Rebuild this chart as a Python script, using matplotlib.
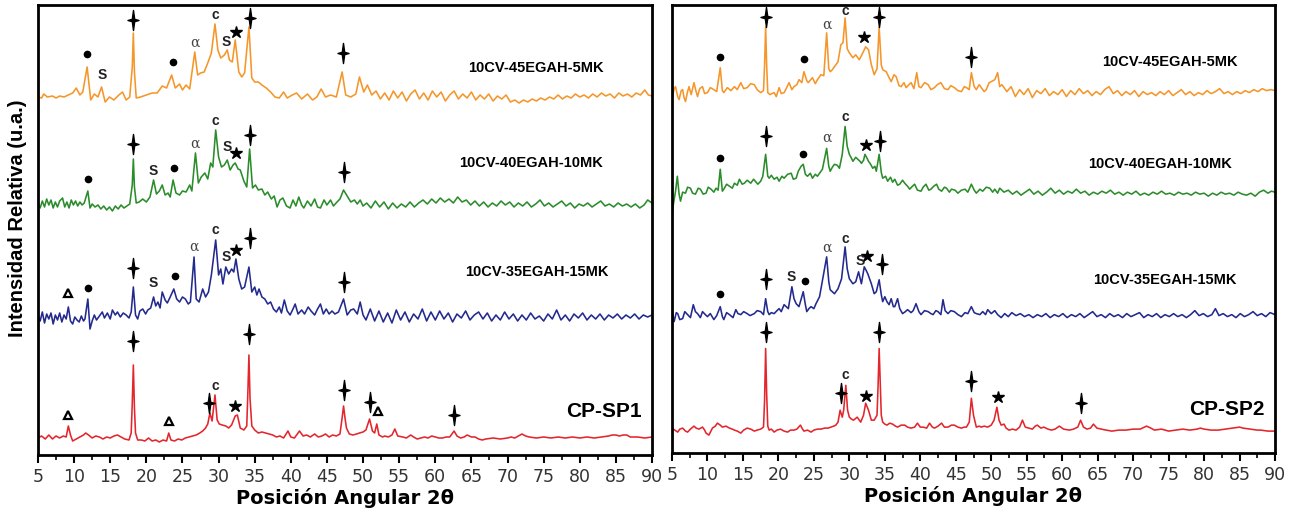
import matplotlib.pyplot as plt
from matplotlib.path import Path
from matplotlib.ticker import MultipleLocator

# ---------------- data (2theta, relative intensity above each baseline) ----------------
# left panel
sp1_45 = [(5.0,0),(5.5,-1),(5.8,3),(6.3,0),(7.0,1),(7.5,-1),(8.0,1),(8.6,0),(9.2,2),(9.8,4),
          (10.3,9),(10.8,2),(11.2,5),(11.8,30),(12.3,-3),(12.8,3),(13.3,0),(13.8,10),(14.3,-5),
          (14.9,0),(15.5,-3),(16.2,2),(16.7,5),(17.2,-3),(17.7,0),(18.05,30),(18.2,64),(18.35,25),
          (18.6,-1),(19.2,0),(20.0,2),(20.8,4),(21.5,4),(22.2,11),(22.8,9),(23.5,22),(24.0,9),
          (24.6,13),(25.0,7),(25.5,12),(26.0,8),(26.7,45),(27.1,22),(27.5,24),(28.0,25),(28.5,34),
          (29.0,44),(29.5,73),(29.9,47),(30.3,39),(30.8,42),(31.2,47),(31.5,37),(31.9,35),(32.3,57),
          (32.8,25),(33.2,20),(33.6,24),(34.2,70),(34.6,19),(35.0,15),(35.5,15),(36.0,12),(36.6,9),
          (37.2,5),(37.8,0),(38.4,-1),(39.0,5),(39.5,-1),(40.2,2),(40.8,4),(41.5,-2),(42.3,3),
          (43.0,-3),(43.6,0),(44.2,8),(44.8,0),(45.5,2),(46.3,0),(47.1,25),(47.6,2),(48.3,0),
          (49.0,3),(49.5,20),(50.1,5),(50.6,12),(51.2,2),(51.8,6),
          (52.4,-2),(53.0,4),(53.6,-3),(54.2,6),(54.8,-1),(55.4,5),(56.0,-4),(56.6,3),(57.2,7),
          (57.8,-2),(58.4,4),(59.0,-3),(59.6,6),(60.2,0),(60.8,5),(61.4,-4),(62.0,2),(62.6,6),
          (63.2,-2),(63.8,3),(64.4,-1),(65.0,5),(65.6,-3),(66.2,2),(66.8,-2),(67.4,3),(68.0,-4),
          (68.6,1),(69.2,-2),(69.8,2),(70.4,-5),(71.0,-3),(71.6,-6),(72.2,-3),(72.8,-5),(73.4,-2),
          (74.0,-4),(74.6,-1),(75.2,-3),(75.8,0),(76.4,-2),(77.0,2),(77.6,-2),(78.2,1),(78.8,-1),
          (79.4,3),(80.0,0),(80.6,2),(81.2,-1),(81.8,3),(82.4,0),(83.0,4),(83.6,1),(84.2,3),
          (84.8,-1),(85.4,4),(86.0,1),(86.6,3),(87.2,0),(87.8,4),(88.4,2),(89.0,7),(89.5,2),(90.0,1)]

sp1_40 = [(5.0,2),(5.3,-3),(5.6,4),(5.9,-2),(6.2,6),(6.5,0),(6.8,5),(7.1,-3),(7.4,3),(7.7,-2),
          (8.0,4),(8.4,7),(8.7,-2),(9.0,3),(9.3,-3),(9.6,5),(9.9,0),(10.2,4),(10.5,-1),(10.8,3),
          (11.1,0),(11.4,2),(11.9,14),(12.2,-3),(12.5,1),(12.9,-2),(13.3,0),(13.7,-4),(14.1,-1),
          (14.5,-5),(14.9,-2),(15.3,-6),(15.7,-1),(16.1,-4),(16.5,0),(16.9,-3),(17.3,-1),(17.7,1),
          (18.05,20),(18.2,46),(18.35,18),(18.6,2),(19.0,3),(19.5,6),(20.0,3),(20.5,8),(21.0,25),
          (21.4,11),(21.8,14),(22.2,20),(22.6,10),(23.0,12),(23.3,8),(23.7,25),(24.1,12),(24.6,10),
          (25.0,14),(25.5,13),(26.0,20),(26.3,14),(26.8,52),(27.2,22),(27.6,28),(28.1,32),(28.5,26),
          (28.9,42),(29.2,38),(29.6,75),(30.0,48),(30.4,38),(30.8,40),(31.2,45),(31.6,35),(32.0,40),
          (32.3,42),(32.7,36),(33.0,35),(33.5,24),(33.9,18),(34.3,56),(34.7,17),(35.1,20),(35.5,15),
          (36.0,16),(36.4,10),(36.8,13),(37.3,6),(37.7,9),(38.1,-2),(38.5,5),(38.9,7),(39.4,-1),
          (39.9,-3),(40.3,5),(40.7,-1),(41.1,8),(41.5,0),(41.8,-3),(42.3,4),(42.8,-1),(43.3,6),
          (43.7,-2),(44.1,-3),(44.6,5),(45.0,0),(45.5,5),(45.9,-1),(46.4,3),(46.8,6),(47.3,15),
          (47.8,9),(48.3,3),(48.8,5),(49.2,1),(49.6,5),(50.0,-1),
          (50.5,2),(51.1,-3),(51.7,4),(52.3,-2),(52.9,3),(53.5,-4),(54.1,2),(54.7,-3),(55.3,1),
          (55.9,-2),(56.5,3),(57.1,-2),(57.7,2),(58.3,5),(58.9,1),(59.5,6),(60.1,2),(60.7,7),
          (61.3,3),(61.9,6),(62.5,2),(63.1,8),(63.7,3),(64.3,5),(64.9,0),(65.5,4),(66.1,-1),
          (66.7,3),(67.3,-2),(67.9,2),(68.5,-1),(69.1,4),(69.7,0),(70.3,3),(70.9,-2),(71.5,2),
          (72.1,-1),(72.7,3),(73.3,-2),(73.9,1),(74.5,5),(75.1,-1),(75.7,2),(76.3,-2),(76.9,1),
          (77.5,4),(78.1,-1),(78.7,2),(79.3,-3),(79.9,1),(80.5,-1),(81.1,2),(81.7,-2),(82.3,1),
          (82.9,4),(83.5,-1),(84.1,1),(84.7,-2),(85.3,2),(85.9,-1),(86.5,1),(87.1,-2),(87.7,1),
          (88.3,-3),(88.9,0),(89.4,5),(90.0,2)]

sp1_35 = [(5.0,2),(5.3,-4),(5.6,5),(5.9,-6),(6.2,3),(6.5,-2),(6.8,4),(7.1,-7),(7.4,2),(7.7,-3),
          (8.0,4),(8.3,-5),(8.6,2),(8.9,-2),(9.2,10),(9.5,-4),(9.8,-7),(10.1,0),(10.4,-3),(10.7,-5),
          (11.0,1),(11.3,-4),(11.5,-2),(11.9,18),(12.2,-12),(12.5,-4),(12.8,2),(13.1,-3),(13.5,1),
          (13.9,5),(14.2,-1),(14.6,4),(15.0,-2),(15.3,7),(15.7,2),(16.0,5),(16.4,0),(16.8,4),
          (17.2,2),(17.6,-1),(17.9,5),(18.2,30),(18.5,2),(18.8,-2),(19.1,6),(19.5,8),(19.9,3),
          (20.2,7),(20.6,9),(21.0,20),(21.3,11),(21.6,15),(21.9,9),(22.2,25),(22.6,17),(22.9,14),
          (23.3,20),(23.8,28),(24.2,18),(24.6,15),(25.0,20),(25.4,18),(25.8,13),(26.1,15),(26.6,60),
          (26.9,18),(27.3,15),(27.8,28),(28.2,20),(28.6,25),(29.0,42),(29.6,77),(30.0,42),(30.3,48),
          (30.6,33),(31.0,50),(31.4,43),(31.8,48),(32.1,45),(32.4,58),(32.8,38),(33.2,28),(33.6,30),
          (34.2,50),(34.6,25),(35.0,30),(35.3,22),(35.6,28),(36.0,20),(36.4,18),(36.8,13),(37.2,15),
          (37.6,8),(38.0,5),(38.4,10),(38.7,4),(39.1,17),(39.5,6),(39.9,2),(40.3,8),(40.6,13),
          (41.0,3),(41.5,7),(41.9,3),(42.4,10),(42.8,6),(43.3,2),(43.7,8),(44.1,13),(44.5,3),
          (44.9,8),(45.3,3),(45.7,6),(46.1,3),(46.6,5),(47.3,18),(47.8,2),(48.3,7),(48.7,8),
          (49.2,3),(49.6,15),(50.0,2),
          (50.4,-3),(51.0,8),(51.6,-4),(52.2,6),(52.8,-5),(53.4,4),(54.0,-6),(54.6,7),(55.2,-3),
          (55.8,5),(56.4,-5),(57.0,3),(57.6,-2),(58.2,8),(58.8,-4),(59.4,5),(60.0,-3),(60.6,6),
          (61.2,-2),(61.8,4),(62.4,-5),(63.0,3),(63.6,-1),(64.2,6),(64.8,-3),(65.4,2),(66.0,5),
          (66.6,-2),(67.2,4),(67.8,-4),(68.4,2),(69.0,-3),(69.6,5),(70.2,-2),(70.8,3),(71.4,-4),
          (72.0,2),(72.6,-3),(73.2,4),(73.8,-2),(74.4,1),(75.0,-4),(75.6,3),(76.2,-2),(76.8,7),
          (77.4,-3),(78.0,2),(78.6,-4),(79.2,3),(79.8,-1),(80.4,4),(81.0,-3),(81.6,2),(82.2,-2),
          (82.8,3),(83.4,-3),(84.0,2),(84.6,-1),(85.2,3),(85.8,-2),(86.4,2),(87.0,-1),(87.6,3),
          (88.2,-2),(88.8,2),(89.4,0),(90.0,2)]

sp1_cp = [(5.0,0),(5.5,2),(6.0,-1),(6.5,3),(7.0,-1),(7.5,2),(8.0,0),(8.5,2),(8.9,1),(9.2,12),
          (9.5,3),(9.8,-3),(10.3,-1),(10.8,1),(11.3,3),(11.6,5),(12.0,3),(12.5,0),(13.0,2),(13.5,1),
          (14.0,-1),(14.5,1),(15.0,0),(15.5,2),(16.0,3),(16.5,1),(17.0,-1),(17.6,-2),(17.9,5),
          (18.05,35),(18.2,73),(18.35,30),(18.5,5),(18.8,-2),(19.3,-2),(19.8,-3),(20.3,0),(20.8,-3),
          (21.3,-2),(21.8,-4),(22.3,-2),(22.8,-3),(23.1,5),(23.4,-2),(23.9,-3),(24.4,-1),(24.9,-2),
          (25.4,0),(25.9,1),(26.4,2),(26.9,3),(27.4,5),(27.8,7),(28.2,10),(28.5,14),(28.8,25),
          (29.1,17),(29.5,43),(29.8,18),(30.1,14),(30.5,13),(31.0,12),(31.4,10),(31.8,13),(32.3,22),
          (32.6,23),(33.0,10),(33.5,8),(33.9,12),(34.05,45),(34.2,83),(34.35,40),(34.6,12),(35.0,8),
          (35.5,5),(36.0,6),(36.5,5),(37.0,4),(37.5,3),(38.0,1),(38.5,2),(39.0,0),(39.6,7),(40.0,1),
          (40.5,0),(41.2,7),(41.7,2),(42.2,3),(42.7,1),(43.3,4),(43.8,1),(44.3,2),(44.8,4),(45.3,1),
          (45.8,3),(46.3,2),(46.8,4),(47.1,20),(47.3,32),(47.5,20),(47.7,10),(48.1,4),(48.6,3),
          (49.1,4),(49.5,5),(50.0,6),(50.4,8),(50.9,19),(51.3,7),(51.6,5),(51.9,14),(52.2,3),
          (52.7,1),(53.0,2),(53.5,1),(54.0,3),(54.4,9),(54.8,2),(55.5,1),(56.0,0),(56.6,3),(57.0,1),
          (57.5,-1),(58.0,0),(58.5,1),(59.0,0),(59.5,2),(60.0,1),(60.5,0),(61.0,0),(61.5,1),(62.0,1),
          (62.6,7),(63.0,2),(63.5,0),(64.0,1),(64.4,3),(65.0,1),(65.5,1),(66.0,-1),(66.5,-2),(67.0,-1),
          (68.0,0),(69.0,-1),(70.0,0),(70.5,1),(71.0,0),(71.5,2),(72.0,4),(72.5,2),(73.0,1),(74.0,0),
          (75.0,1),(76.0,0),(77.0,1),(78.0,0),(79.0,1),(80.0,0),(81.0,1),(82.0,0),(83.0,1),(84.0,2),
          (84.5,3),(85.0,3),(85.5,2),(86.0,3),(86.5,3),(87.0,1),(88.0,1),(89.0,0),(90.0,1)]

# right panel
sp2_45 = [(5.0,-5),(5.3,6),(5.5,8),(5.8,-2),(6.0,-5),(6.3,4),(6.5,5),(6.7,-3),(6.9,-7),(7.2,3),
          (7.4,8),(7.7,0),(8.1,12),(8.4,3),(8.6,-2),(8.9,6),(9.3,8),(9.6,1),(10.0,2),(10.4,7),
          (10.9,5),(11.3,3),(11.8,27),(12.1,4),(12.3,2),(12.8,7),(13.3,4),(13.8,8),(14.2,5),(14.7,12),
          (15.1,6),(15.6,7),(16.1,11),(16.6,10),(17.0,5),(17.5,2),(17.9,4),(18.05,30),(18.2,68),
          (18.35,28),(18.5,2),(18.8,0),(19.4,2),(19.7,-2),(20.1,7),(20.4,1),(20.8,2),(21.1,6),(21.5,12),
          (21.9,5),(22.2,8),(22.6,10),(22.9,15),(23.3,12),(23.6,23),(24.0,14),(24.2,12),(24.8,17),
          (25.2,11),(25.5,15),(26.0,20),(26.4,19),(26.8,62),(27.1,26),(27.3,23),(27.6,25),(27.9,28),
          (28.4,33),(28.8,50),(29.1,52),(29.4,77),(29.7,46),(30.0,42),(30.5,37),(30.9,40),(31.4,35),
          (31.9,42),(32.3,48),(32.7,45),(33.1,30),(33.5,20),(33.9,26),(34.2,68),(34.5,30),(34.7,25),
          (35.2,23),(35.6,17),(35.9,13),(36.3,20),(36.6,18),(37.0,9),(37.3,8),(37.7,12),(38.0,7),
          (38.4,10),(38.7,12),(39.1,6),(39.5,22),(39.8,8),(40.1,7),(40.6,12),(41.1,10),(41.5,5),
          (42.0,7),(42.4,10),(42.9,12),(43.4,6),(43.9,5),(44.3,9),(44.8,7),(45.3,4),(45.8,3),(46.2,8),
          (46.5,7),(46.9,5),(47.2,22),(47.6,8),(47.9,5),(48.3,10),(48.6,7),(49.0,3),(49.3,5),(49.7,12),
          (50.0,13),(50.5,15),(50.9,22),(51.2,8),
          (51.5,10),(52.2,3),(52.8,8),(53.4,-2),(54.0,5),(54.6,0),(55.2,6),(55.8,-3),(56.4,4),(57.0,1),
          (57.6,6),(58.2,-1),(58.8,3),(59.4,0),(60.0,5),(60.6,-2),(61.2,4),(61.8,0),(62.4,6),(63.0,1),
          (63.6,4),(64.2,-1),(64.8,3),(65.4,0),(66.0,5),(66.6,8),(67.2,1),(67.8,4),(68.4,-1),(69.0,3),
          (69.6,0),(70.2,4),(70.8,-2),(71.4,3),(72.0,0),(72.6,2),(73.2,-1),(73.8,3),(74.4,0),(75.0,4),
          (75.6,-1),(76.2,2),(76.8,5),(77.4,0),(78.0,3),(78.6,-1),(79.2,2),(79.8,0),(80.4,4),(81.0,1),
          (81.6,3),(82.2,6),(82.8,1),(83.4,3),(84.0,0),(84.6,3),(85.2,1),(85.8,4),(86.4,2),(87.0,5),
          (87.6,3),(88.2,6),(88.8,4),(89.4,5),(90.0,4)]

sp2_40 = [(5.0,-22),(5.2,-8),(5.5,5),(5.75,20),(6.0,2),(6.2,-5),(6.5,4),(6.9,3),(7.2,9),(7.6,8),
          (7.9,3),(8.3,2),(8.7,8),(9.0,7),(9.4,2),(9.8,3),(10.1,9),(10.5,7),(10.9,4),(11.2,8),(11.5,6),
          (11.8,27),(12.1,5),(12.3,7),(12.7,12),(13.1,10),(13.5,8),(13.8,13),(14.2,11),(14.5,17),
          (14.9,12),(15.2,13),(15.6,16),(16.1,13),(16.5,17),(17.1,12),(17.5,15),(17.8,20),(18.2,42),
          (18.5,20),(18.7,18),(19.0,21),(19.4,17),(19.8,19),(20.1,15),(20.5,20),(20.8,18),(21.3,22),
          (21.8,23),(22.1,17),(22.5,18),(22.8,25),(23.2,30),(23.5,32),(23.8,22),(24.1,20),(24.5,23),
          (24.8,18),(25.2,22),(25.5,20),(25.9,24),(26.2,27),(26.8,48),(27.1,30),(27.3,25),(27.6,29),
          (27.9,32),(28.3,31),(28.6,28),(29.0,42),(29.4,70),(29.7,50),(30.0,42),(30.3,38),(30.5,35),
          (30.9,39),(31.2,37),(31.5,35),(31.7,33),(32.0,36),(32.2,42),(32.5,38),(32.7,35),(33.0,32),
          (33.3,28),(33.6,30),(33.8,25),(34.2,42),(34.5,24),(34.7,18),(35.1,20),(35.4,15),(35.8,19),
          (36.1,14),(36.4,17),(36.8,11),(37.1,12),(37.5,16),(37.8,13),(38.2,10),(38.5,7),(38.9,10),
          (39.2,12),(39.6,6),(40.1,5),(40.4,9),(40.8,12),(41.2,6),(41.5,7),(41.9,10),(42.3,12),
          (42.6,7),(43.0,5),(43.4,9),(43.7,8),(44.1,4),(44.4,7),(44.9,6),(45.3,3),(45.8,6),(46.3,7),
          (46.7,4),(47.2,12),(47.6,6),(47.9,3),(48.4,7),(48.8,5),(49.3,9),(49.8,8),(50.2,4),(50.5,7),
          (50.9,3),(51.2,8),(51.8,4),(52.4,6),(53.0,2),(53.6,5),(54.2,1),(54.8,4),(55.4,7),(56.0,2),
          (56.6,5),(57.2,1),(57.8,4),(58.4,8),(59.0,3),(59.6,6),(60.2,2),(60.8,5),(61.4,3),(62.0,7),
          (62.6,3),(63.2,5),(63.8,1),(64.4,4),(65.0,2),(65.6,5),(66.2,3),(66.8,6),(67.4,2),(68.0,4),
          (68.6,1),(69.2,4),(69.8,2),(70.4,5),(71.0,1),(71.6,3),(72.2,1),(72.8,4),(73.4,2),(74.0,5),
          (74.6,2),(75.2,3),(75.8,1),(76.4,4),(77.0,2),(77.6,3),(78.2,1),(78.8,4),(79.4,2),(80.0,3),
          (80.6,0),(81.2,3),(81.8,1),(82.4,4),(83.0,2),(83.6,3),(84.2,1),(84.8,4),(85.4,2),(86.0,1),
          (86.6,3),(87.2,0),(87.8,4),(88.4,6),(89.0,3),(89.5,5),(90.0,4)]

sp2_35 = [(5.0,7),(5.3,-5),(5.6,4),(5.8,3),(6.1,-3),(6.5,-2),(6.8,5),(7.2,2),(7.6,-1),(8.0,12),
          (8.3,5),(8.6,3),(9.0,-1),(9.3,5),(9.7,2),(10.0,0),(10.4,3),(10.9,-3),(11.3,1),(11.8,10),
          (12.1,0),(12.3,-3),(12.7,4),(13.1,2),(13.6,-1),(14.0,7),(14.3,3),(14.7,2),(15.1,5),(15.6,3),
          (16.0,1),(16.6,3),(17.0,6),(17.5,5),(17.9,2),(18.2,18),(18.5,5),(18.7,2),(19.0,4),(19.4,3),
          (19.8,6),(20.1,8),(20.4,5),(20.8,12),(21.1,10),(21.4,8),(21.9,30),(22.2,18),(22.5,13),
          (22.9,10),(23.5,25),(23.8,12),(24.0,5),(24.3,8),(24.6,10),(25.0,8),(25.3,13),(25.8,20),
          (26.3,40),(26.8,60),(27.1,35),(27.3,27),(27.6,25),(27.9,23),(28.4,28),(28.9,38),(29.4,70),
          (29.7,48),(30.0,38),(30.5,33),(30.9,35),(31.3,45),(31.7,33),(32.1,50),(32.4,46),(32.6,43),
          (33.1,33),(33.5,23),(33.8,25),(34.2,37),(34.5,22),(34.7,15),(35.0,20),(35.3,15),(35.6,12),
          (35.9,18),(36.2,10),(36.4,10),(36.8,18),(37.1,8),(37.5,3),(37.9,5),(38.2,7),(38.7,4),
          (39.0,6),(39.4,13),(39.8,5),(40.1,2),(40.6,6),(41.1,5),(41.5,3),(41.8,2),(42.2,6),(42.5,5),
          (42.9,2),(43.2,17),(43.5,6),(43.9,3),(44.3,6),(44.8,5),(45.3,2),(45.8,0),(46.3,4),(46.7,3),
          (47.2,10),(47.6,4),(47.9,3),(48.4,2),(48.8,5),(49.2,2),(49.5,7),(50.0,3),(50.5,6),
          (50.9,2),(51.4,-1),(51.9,3),(52.4,0),(52.9,4),(53.5,1),(54.1,3),(54.7,0),(55.3,2),(55.9,-1),
          (56.5,2),(57.1,0),(57.7,3),(58.3,-1),(58.9,2),(59.5,0),(60.1,3),(60.7,-1),(61.3,2),(61.9,0),
          (62.5,3),(63.1,-1),(63.7,2),(64.3,5),(64.9,0),(65.5,2),(66.1,-1),(66.7,3),(67.3,0),(67.9,2),
          (68.5,-1),(69.1,3),(69.7,0),(70.3,2),(70.9,4),(71.5,-1),(72.1,2),(72.7,0),(73.3,3),(73.9,-1),
          (74.5,2),(75.1,0),(75.7,3),(76.3,0),(76.9,2),(77.5,-1),(78.1,2),(78.7,6),(79.3,1),(79.9,3),
          (80.5,0),(81.1,2),(81.6,8),(82.1,1),(82.7,3),(83.3,0),(83.9,2),(84.5,-1),(85.1,3),(85.7,0),
          (86.3,2),(86.9,5),(87.5,1),(88.1,3),(88.7,0),(89.3,4),(90.0,2)]

sp2_cp = [(5.0,2),(5.4,0),(5.8,-2),(6.1,1),(6.5,2),(6.9,-1),(7.2,-2),(7.6,1),(8.1,4),(8.4,2),
          (8.8,1),(9.3,3),(9.6,0),(9.8,-3),(10.2,-5),(10.7,2),(11.1,4),(11.4,7),(11.8,5),(12.1,3),
          (12.6,4),(13.1,2),(13.5,1),(13.8,0),(14.2,-1),(14.7,-3),(15.1,0),(15.6,2),(16.1,1),(16.6,-1),
          (17.0,0),(17.5,1),(17.9,3),(18.05,30),(18.2,82),(18.35,35),(18.5,4),(18.7,0),(19.0,1),
          (19.4,-2),(19.8,0),(20.3,1),(20.8,-1),(21.3,-2),(21.7,0),(22.2,0),(22.6,1),(23.1,5),(23.4,1),
          (23.6,-1),(24.1,0),(24.6,-2),(25.0,0),(25.5,1),(26.0,1),(26.5,2),(27.0,2),(27.4,3),(27.8,4),
          (28.1,5),(28.4,8),(28.7,20),(29.0,13),(29.2,20),(29.5,45),(29.75,20),(30.0,13),(30.3,11),
          (30.6,10),(31.1,13),(31.6,8),(32.0,15),(32.3,27),(32.7,20),(33.1,10),(33.5,10),(33.9,15),
          (34.05,45),(34.2,82),(34.35,50),(34.5,15),(34.7,8),(35.0,6),(35.3,5),(35.7,7),(36.1,6),
          (36.5,4),(36.8,3),(37.3,5),(37.8,5),(38.2,3),(38.7,2),(39.2,3),(39.6,7),(40.0,3),(40.4,3),
          (40.9,2),(41.3,7),(41.7,3),(42.0,2),(42.5,4),(43.0,7),(43.4,3),(43.9,3),(44.4,5),(44.8,5),
          (45.3,3),(45.8,2),(46.2,3),(46.5,3),(46.9,8),(47.2,32),(47.5,15),(47.9,3),(48.3,4),(48.6,3),
          (49.0,4),(49.5,3),(50.0,5),(50.4,10),(50.8,23),(51.1,10),(51.4,5),(51.8,6),(52.1,2),(52.5,0),
          (53.0,1),(53.5,0),(54.0,3),(54.4,10),(54.8,3),(55.3,2),(55.8,1),(56.2,4),(56.5,5),(57.0,2),
          (57.4,3),(58.0,1),(58.5,0),(59.0,1),(59.6,4),(60.2,1),(61.0,0),(61.6,1),(62.2,3),(62.6,10),
          (63.0,3),(63.5,1),(64.0,2),(64.4,6),(64.9,2),(65.5,1),(66.2,0),(67.0,-1),(68.0,0),(69.0,0),
          (70.0,1),(71.0,1),(71.9,4),(72.5,2),(73.0,0),(74.0,1),(75.0,-1),(76.0,0),(77.0,1),(78.0,0),
          (79.0,1),(79.5,2),(80.0,1),(81.0,0),(82.0,0),(83.0,1),(84.0,2),(85.0,3),(85.5,2),(86.5,1),
          (87.5,0),(88.0,0),(89.0,-1),(90.0,-1)]

names = ['10CV-45EGAH-5MK', '10CV-40EGAH-10MK', '10CV-35EGAH-15MK']
colors = ['#F5962A', '#2B8C2B', '#232A8E', '#E3262C']

# ---------------- figure ----------------
fig = plt.figure(figsize=(12.94, 5.11), dpi=100)
ax1 = fig.add_axes([38 / 1294, 56 / 511, 614 / 1294, 450 / 511])
ax2 = fig.add_axes([672 / 1294, 58 / 511, 603 / 1294, 448 / 511])

# four-pointed star used for the main phase
cross = Path([(0, 1), (0.12, 0.12), (0.55, 0), (0.12, -0.12), (0, -1), (-0.12, -0.12),
              (-0.55, 0), (-0.12, 0.12), (0, 1)],
             [Path.MOVETO] + [Path.LINETO] * 7 + [Path.CLOSEPOLY])

# phase marks: (2theta, pixel row in the original, symbol)
marks_1 = [(11.8, 54, 'dot'), (13.9, 75, 'S'), (18.2, 20, 'x'), (23.7, 62, 'dot'), (26.7, 43, 'a'),
           (29.5, 15, 'c'), (31.0, 42, 'S'), (32.4, 32, 'star'), (34.3, 18, 'x'), (47.2, 53, 'x'),
           (11.9, 179, 'dot'), (18.2, 144, 'x'), (21.0, 171, 'S'), (23.8, 168, 'dot'), (26.7, 144, 'a'),
           (29.6, 121, 'c'), (31.2, 147, 'S'), (32.4, 153, 'star'), (34.3, 135, 'x'), (47.3, 172, 'x'),
           (9.2, 293, 'tri'), (11.9, 288, 'dot'), (18.2, 268, 'x'), (21.0, 283, 'S'), (23.9, 276, 'dot'),
           (26.6, 247, 'a'), (29.6, 230, 'c'), (31.0, 257, 'S'), (32.4, 250, 'star'), (34.3, 238, 'x'),
           (47.3, 282, 'x'),
           (9.2, 415, 'tri'), (18.2, 341, 'x'), (23.1, 421, 'tri'), (28.7, 403, 'x'), (29.6, 386, 'c'),
           (32.3, 406, 'star'), (34.2, 334, 'x'), (47.3, 390, 'x'), (50.9, 402, 'x'), (52.0, 411, 'tri'),
           (62.6, 415, 'x')]
marks_2 = [(11.8, 57, 'dot'), (18.2, 17, 'x'), (23.6, 59, 'dot'), (26.8, 25, 'a'), (29.4, 11, 'c'),
           (32.1, 37, 'star'), (34.2, 17, 'x'), (47.2, 57, 'x'),
           (11.8, 159, 'dot'), (18.2, 137, 'x'), (23.5, 155, 'dot'), (26.8, 138, 'a'), (29.4, 118, 'c'),
           (32.4, 146, 'star'), (34.3, 142, 'x'),
           (11.8, 295, 'dot'), (18.2, 280, 'x'), (21.8, 278, 'S'), (23.8, 282, 'dot'), (26.8, 249, 'a'),
           (29.4, 240, 'c'), (31.5, 262, 'S'), (32.5, 257, 'star'), (34.6, 265, 'x'),
           (18.2, 333, 'x'), (28.8, 395, 'x'), (29.5, 377, 'c'), (32.4, 398, 'star'), (34.2, 333, 'x'),
           (47.2, 383, 'x'), (50.9, 399, 'star'), (62.6, 405, 'x')]


def draw_panel(ax, curves, offsets, marks, label_pos, cp_name):
    for (pts, off, col) in zip(curves, offsets, colors):
        xs = [p[0] for p in pts]
        ys = [p[1] + off for p in pts]
        ax.plot(xs, ys, color=col, lw=1.15)

    for x, row, kind in marks:
        y = 455 - row
        if kind == 'x':
            ax.plot(x, y, marker=cross, ms=14.5, color='k', ls='none')
        elif kind == 'dot':
            ax.plot(x, y, marker='o', ms=4.5, color='k', ls='none')
        elif kind == 'star':
            ax.plot(x, y, marker='*', ms=9, color='k', ls='none')
        elif kind == 'tri':
            ax.plot(x, y, marker='^', ms=5.5, mfc='white', mec='k', mew=1.6, ls='none')
        elif kind == 'a':
            ax.text(x, y, '\u03b1', fontsize=10, family='DejaVu Serif', color='#444',
                    ha='center', va='center')
        else:
            ax.text(x, y, kind, fontsize=10, fontweight='bold', color='#222',
                    ha='center', va='center')

    for name, (x, row) in zip(names, label_pos):
        ax.text(x, 455 - row, name, fontsize=10.5, fontweight='bold', ha='center', va='center')
    ax.text(88.6, 455 - 411, cp_name, fontsize=15, fontweight='bold', ha='right', va='center')

    ax.set_xlim(5, 90)
    ax.set_ylim(0, 450)
    ax.set_yticks([])
    ax.set_xticks(range(5, 91, 5))
    ax.xaxis.set_minor_locator(MultipleLocator(2.5))
    ax.tick_params(axis='x', which='major', direction='out', length=6, width=1.5,
                   labelsize=12.5, labelcolor='#333')
    ax.tick_params(axis='x', which='minor', direction='out', length=3.5, width=1.2)
    for s in ax.spines.values():
        s.set_linewidth(2)
    ax.set_xlabel('Posición Angular 2θ', fontsize=14, fontweight='bold', labelpad=1)


plt.rcParams['font.family'] = ['Liberation Sans', 'DejaVu Sans']

draw_panel(ax1, [sp1_45, sp1_40, sp1_35, sp1_cp], [358, 250, 138, 17], marks_1,
           [(74.0, 68), (73.3, 163), (74.0, 272)], 'CP-SP1')
draw_panel(ax2, [sp2_45, sp2_40, sp2_35, sp2_cp], [360, 258, 137, 23], marks_2,
           [(75.2, 62), (73.8, 165), (74.5, 281)], 'CP-SP2')

fig.text(18 / 1294, 1 - 218 / 511, 'Intensidad Relativa (u.a.)', rotation=90, fontsize=14.5,
         fontweight='bold', ha='center', va='center')

fig.savefig('out.png', dpi=100)
